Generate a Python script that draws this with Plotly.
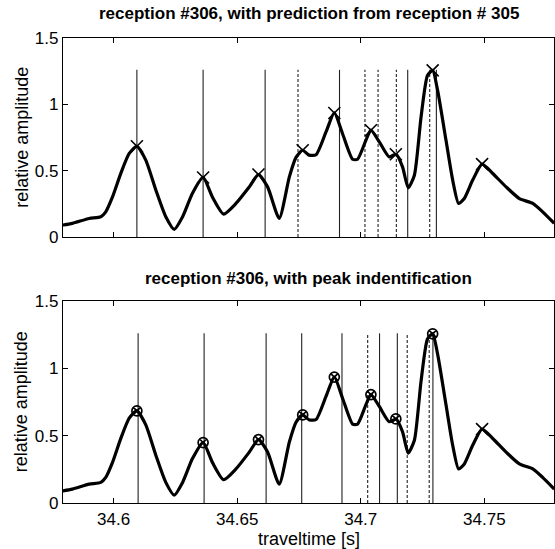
import plotly.graph_objects as go
from plotly.subplots import make_subplots

# --- data ---
time_s = [34.5793, 34.5833, 34.5901, 34.5948, 34.5968, 34.5995, 34.6029, 34.6063,
          34.6094, 34.6130, 34.6171, 34.6211, 34.6245, 34.6279, 34.6319, 34.6362,
          34.6400, 34.6445, 34.6495, 34.6549, 34.6586, 34.6623, 34.6670, 34.6711,
          34.6738, 34.6764, 34.6792, 34.6819, 34.6859, 34.6893, 34.6926, 34.6967,
          34.6987, 34.7021, 34.7041, 34.7075, 34.7115, 34.7143, 34.7169, 34.7192,
          34.7217, 34.7244, 34.7270, 34.7291, 34.7311, 34.7345, 34.7372, 34.7396,
          34.7419, 34.7453, 34.7491, 34.7534, 34.7588, 34.7642, 34.7696, 34.7736,
          34.7783]
amplitude = [0.09, 0.103, 0.14, 0.153, 0.19, 0.30, 0.48, 0.63,
             0.684, 0.58, 0.353, 0.153, 0.058, 0.153, 0.33, 0.449,
             0.30, 0.173, 0.253, 0.378, 0.471, 0.378, 0.14, 0.453,
             0.60, 0.654, 0.617, 0.62, 0.79, 0.935, 0.78, 0.586,
             0.586, 0.73, 0.805, 0.717, 0.604, 0.624, 0.529, 0.371,
             0.466, 0.905, 1.218, 1.256, 1.105, 0.729, 0.429, 0.253,
             0.29, 0.429, 0.549, 0.479, 0.378, 0.29, 0.253, 0.19,
             0.103]

peak_time = [34.6094, 34.6362, 34.6586, 34.6765, 34.6893, 34.7041, 34.7142, 34.7291, 34.7491]
peak_amp = [0.684, 0.449, 0.471, 0.654, 0.935, 0.805, 0.624, 1.256, 0.549]
identified = [True, True, True, True, True, True, True, True, False]

# top panel: predicted arrivals
top_solid = [34.6094, 34.6362, 34.6613, 34.6914, 34.7190, 34.7306]
top_dashed = [34.6746, 34.7017, 34.7070, 34.7144, 34.7279]
# bottom panel: identified arrivals
bottom_solid = [34.6099, 34.6366, 34.6617, 34.6761, 34.6924, 34.7076, 34.7148, 34.7292]
bottom_dashed = [34.7028, 34.7188, 34.7277]
line_height = 1.26

x_ticks = [34.6, 34.65, 34.7, 34.75]
x_tick_labels = ["34.6", "34.65", "34.7", "34.75"]
y_ticks = [0, 0.5, 1, 1.5]
y_tick_labels = ["0", "0.5", "1", "1.5"]

FONT = "Liberation Sans, Arial, Helvetica, sans-serif"
TOP_DOMAIN = [0.572, 1.0]
BOTTOM_DOMAIN = [0.0, 0.4344]


def stems(times):
    xs, ys = [], []
    for t in times:
        xs += [t, t, None]
        ys += [0, line_height, None]
    return xs, ys


fig = make_subplots(rows=2, cols=1, vertical_spacing=0.0)

for row, solid, dashed in [(1, top_solid, top_dashed), (2, bottom_solid, bottom_dashed)]:
    xs, ys = stems(solid)
    fig.add_trace(go.Scatter(x=xs, y=ys, mode="lines",
                             line=dict(color="#222", width=1.1)), row=row, col=1)
    xs, ys = stems(dashed)
    fig.add_trace(go.Scatter(x=xs, y=ys, mode="lines",
                             line=dict(color="#222", width=1.1, dash="3px,2px")), row=row, col=1)
    fig.add_trace(go.Scatter(x=time_s, y=amplitude, mode="lines",
                             line=dict(color="black", width=3.2, shape="spline", smoothing=0.6)),
                  row=row, col=1)

# markers
fig.add_trace(go.Scatter(x=peak_time, y=peak_amp, mode="markers",
                         marker=dict(symbol="x-thin", size=12, color="black",
                                     line=dict(color="black", width=1.6))),
              row=1, col=1)
fig.add_trace(go.Scatter(x=[t for t, f in zip(peak_time, identified) if f],
                         y=[a for a, f in zip(peak_amp, identified) if f], mode="markers",
                         marker=dict(symbol="circle-x-open", size=10, color="black",
                                     line=dict(color="black", width=1.7))),
              row=2, col=1)
fig.add_trace(go.Scatter(x=[t for t, f in zip(peak_time, identified) if not f],
                         y=[a for a, f in zip(peak_amp, identified) if not f], mode="markers",
                         marker=dict(symbol="x-thin", size=12, color="black",
                                     line=dict(color="black", width=1.6))),
              row=2, col=1)

axis_common = dict(showline=True, linecolor="black", linewidth=1.2, mirror="ticks",
                   ticks="inside", ticklen=5, tickcolor="black", showgrid=False, zeroline=False,
                   automargin=False, tickfont=dict(family=FONT, size=17, color="black"))

fig.update_xaxes(range=[34.5795, 34.7782], tickvals=x_ticks, ticktext=x_tick_labels, **axis_common)
fig.update_xaxes(showticklabels=False, row=1, col=1)
fig.update_yaxes(range=[0, 1.5], tickvals=y_ticks, ticktext=y_tick_labels, **axis_common)

title_font = dict(family=FONT, size=17, color="black")
label_font = dict(family=FONT, size=18, color="black")
annotations = [
    dict(text="<b>reception #306, with prediction from reception # 305</b>",
         x=0.5, y=TOP_DOMAIN[1], yshift=13, yanchor="bottom", font=title_font),
    dict(text="<b>reception #306, with peak indentification</b>",
         x=0.5, y=BOTTOM_DOMAIN[1], yshift=11, yanchor="bottom", font=title_font),
    dict(text="relative amplitude", textangle=-90, x=-0.085, xanchor="center",
         y=sum(TOP_DOMAIN) / 2, yanchor="middle", font=label_font),
    dict(text="relative amplitude", textangle=-90, x=-0.085, xanchor="center",
         y=sum(BOTTOM_DOMAIN) / 2, yanchor="middle", font=label_font),
    dict(text="traveltime [s]", x=0.5, y=0, yshift=-24, yanchor="top", font=label_font),
]
for a in annotations:
    a.update(xref="paper", yref="paper", showarrow=False)

fig.update_layout(
    xaxis=dict(domain=[0, 1]),
    yaxis=dict(domain=TOP_DOMAIN),
    yaxis2=dict(domain=BOTTOM_DOMAIN),
    width=555, height=549,
    margin=dict(l=63, r=1, t=38, b=46),
    paper_bgcolor="white", plot_bgcolor="white",
    showlegend=False,
    font=dict(family=FONT, color="black"),
    annotations=annotations,
)

# the page body has a default 8px margin; drop it so the figure sits at the window origin
fig.write_html("out.html", config={"displayModeBar": False},
               post_script="document.body.style.margin='0';")
